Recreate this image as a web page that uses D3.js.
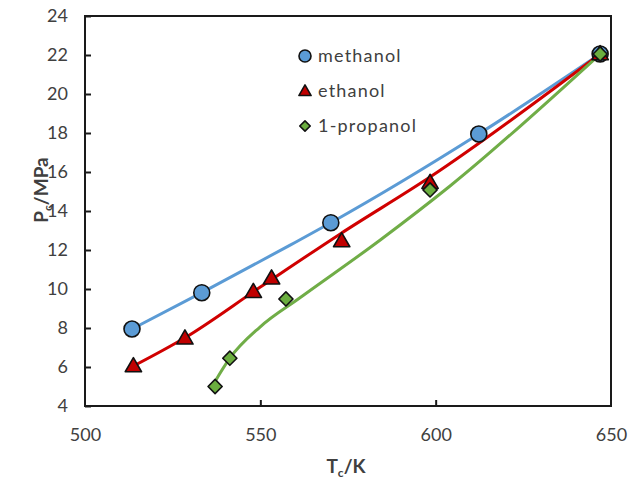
<!DOCTYPE html>
<html>
<head>
<meta charset="utf-8">
<script src="https://cdn.jsdelivr.net/npm/d3@7"></script>
<style>
  html, body { margin: 0; padding: 0; background: #fff; }
  svg { display: block; }
  text { font-family: Lato, "Open Sans", sans-serif; fill: #404040; }
</style>
</head>
<body>
<script>
// Data (T_c in K, P_c in MPa)
const methanolT = [513.4, 533.3, 570.1, 612.3, 646.9];
const methanolP = [7.95, 9.81, 13.4, 17.95, 22.05];
const ethanolT = [513.8, 528.5, 548.0, 553.2, 573.2, 598.4, 646.9];
const ethanolP = [6.05, 7.47, 9.86, 10.55, 12.46, 15.45, 22.05];
const propanolT = [537.1, 541.3, 557.3, 598.4, 646.9];
const propanolP = [5.0, 6.45, 9.49, 15.08, 22.05];

// model curves
const methanolFitT = [513.4, 533.3, 558.5, 570.1, 612.3, 646.9];
const methanolFitP = [7.95, 9.81, 12.25, 13.4, 17.95, 22.05];
const ethanolFitT = [513.8, 528.5, 550.0, 573.0, 598.4, 646.9];
const ethanolFitP = [6.05, 7.5, 10.1, 12.85, 15.74, 22.05];
const propanolFitT = [537.1, 541.3, 549.9, 561.3, 584.1, 604.1, 646.9];
const propanolFitP = [5.26, 6.45, 8.05, 9.55, 12.5, 15.28, 22.05];

const xTicks = [500, 550, 600, 650];
const yTicks = [4, 6, 8, 10, 12, 14, 16, 18, 20, 22, 24];
const seriesNames = ["methanol", "ethanol", "1-propanol"];

const W = 633, H = 489;
const mLeft = 85, mRight = 611, mTop = 16, mBottom = 406;

const svg = d3.select("body").append("svg").attr("width", W).attr("height", H);

const x = d3.scaleLinear().domain([500, 650]).range([mLeft, mRight]);
const y = d3.scaleLinear().domain([4, 24]).range([mBottom, mTop]);

const zip = (a, b) => a.map((v, i) => [v, b[i]]);

const lineGen = d3.line().x(d => x(d[0])).y(d => y(d[1])).curve(d3.curveMonotoneX);

const colors = { blue: "#5B9BD5", red: "#D00000", green: "#70AD47", redFill: "#C00000", greenFill: "#6BAE3F" };

// lines
svg.append("path").datum(zip(methanolFitT, methanolFitP)).attr("d", lineGen)
  .attr("fill", "none").attr("stroke", colors.blue).attr("stroke-width", 3);
svg.append("path").datum(zip(ethanolFitT, ethanolFitP)).attr("d", lineGen)
  .attr("fill", "none").attr("stroke", colors.red).attr("stroke-width", 3);
svg.append("path").datum(zip(propanolFitT, propanolFitP)).attr("d", lineGen)
  .attr("fill", "none").attr("stroke", colors.green).attr("stroke-width", 3);

// axes box
svg.append("rect").attr("x", mLeft).attr("y", mTop).attr("width", mRight - mLeft).attr("height", mBottom - mTop)
  .attr("fill", "none").attr("stroke", "#1a1a1a").attr("stroke-width", 2);

// Y axis
const yAxis = d3.axisLeft(y).tickValues(yTicks).tickSizeInner(-6).tickSizeOuter(0).tickPadding(17);
const gy = svg.append("g").attr("transform", `translate(${mLeft},0)`).call(yAxis);
gy.select(".domain").remove();
gy.selectAll(".tick line").attr("stroke", "#1a1a1a").attr("stroke-width", 2);
gy.selectAll(".tick text").attr("font-size", 18).attr("fill", "#404040")
  .style("font-family", "Lato, 'Open Sans', sans-serif");

// X axis
const xAxis = d3.axisBottom(x).tickValues(xTicks).tickSizeInner(-6).tickSizeOuter(0).tickPadding(22);
const gx = svg.append("g").attr("transform", `translate(0,${mBottom})`).call(xAxis);
gx.select(".domain").remove();
gx.selectAll(".tick line").attr("stroke", "#1a1a1a").attr("stroke-width", 2)
  .attr("display", d => (d === 500 || d === 650) ? "none" : null);
gx.selectAll(".tick text").attr("font-size", 18).attr("fill", "#404040")
  .style("font-family", "Lato, 'Open Sans', sans-serif");

// axis titles
const yt = svg.append("text").attr("transform", `translate(48,190) rotate(-90)`)
  .attr("text-anchor", "middle").attr("font-size", 19).attr("font-weight", "bold").attr("fill", "#262626");
yt.append("tspan").text("P");
yt.append("tspan").attr("font-size", 12).attr("dy", 4).text("c");
yt.append("tspan").attr("dy", -4).text("/MPa");

const xt = svg.append("text").attr("x", 346).attr("y", 473)
  .attr("text-anchor", "middle").attr("font-size", 19).attr("font-weight", "bold").attr("fill", "#262626");
xt.append("tspan").text("T");
xt.append("tspan").attr("font-size", 12).attr("dy", 4).text("c");
xt.append("tspan").attr("dy", -4).text("/K");

// markers
const tri = d3.symbol().type(d3.symbolTriangle).size(115);
const dia = d3.symbol().type(d3.symbolSquare).size(100);

svg.append("g").selectAll("circle").data(zip(methanolT, methanolP)).join("circle")
  .attr("cx", d => x(d[0])).attr("cy", d => y(d[1])).attr("r", 8)
  .attr("fill", colors.blue).attr("stroke", "#111").attr("stroke-width", 1.6);

svg.append("g").selectAll("path").data(zip(ethanolT, ethanolP)).join("path")
  .attr("d", tri).attr("transform", d => `translate(${x(d[0])},${y(d[1]) + 1})`)
  .attr("fill", colors.redFill).attr("stroke", "#111").attr("stroke-width", 1.6).attr("stroke-linejoin", "round");

svg.append("g").selectAll("path").data(zip(propanolT, propanolP)).join("path")
  .attr("d", dia).attr("transform", d => `translate(${x(d[0])},${y(d[1])}) rotate(45)`)
  .attr("fill", colors.greenFill).attr("stroke", "#111").attr("stroke-width", 1.6).attr("stroke-linejoin", "round");

// legend
const lg = svg.append("g");
const legendY = [56, 91, 126];
lg.append("circle").attr("cx", 305).attr("cy", legendY[0]).attr("r", 6)
  .attr("fill", colors.blue).attr("stroke", "#111").attr("stroke-width", 1.6);
lg.append("path").attr("d", d3.symbol().type(d3.symbolTriangle).size(65)())
  .attr("transform", `translate(305,${legendY[1] + 1})`)
  .attr("fill", colors.redFill).attr("stroke", "#111").attr("stroke-width", 1.6).attr("stroke-linejoin", "round");
lg.append("path").attr("d", d3.symbol().type(d3.symbolSquare).size(55)())
  .attr("transform", `translate(305,${legendY[2]}) rotate(45)`)
  .attr("fill", colors.greenFill).attr("stroke", "#111").attr("stroke-width", 1.6).attr("stroke-linejoin", "round");
lg.selectAll("text").data(seriesNames).join("text")
  .attr("x", 318).attr("y", (d, i) => legendY[i]).attr("dy", "0.35em")
  .attr("font-size", 18).attr("letter-spacing", 1.2).attr("fill", "#404040").text(d => d);
</script>
</body>
</html>
